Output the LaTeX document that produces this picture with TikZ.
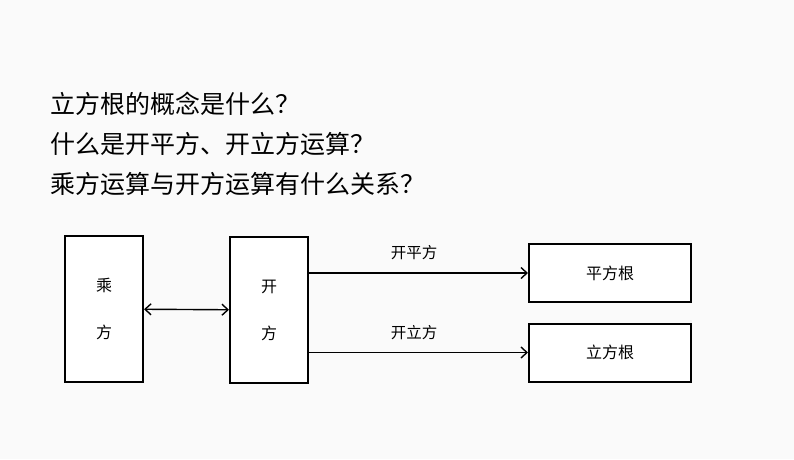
\documentclass[tikz,border=0pt]{standalone}
\usepackage{fontspec}
\usepackage{tikz}
\usetikzlibrary{arrows, arrows.meta}
\newfontfamily\cjk{Noto Sans CJK SC}

\begin{document}
\begin{tikzpicture}[x=1pt, y=-1pt,
  box/.style={draw, line width=2pt, fill=white, inner sep=0pt, font=\cjk\fontsize{16}{19}\selectfont},
  tall/.style={box, minimum width=78pt, minimum height=146pt, align=center},
  wide/.style={box, minimum width=162pt, minimum height=58pt},
  lab/.style={font=\cjk\fontsize{15.5}{18}\selectfont},
  line/.style={font=\cjk\fontsize{25}{30}\selectfont, anchor=west, inner sep=0pt},
  conn/.style={line width=1.4pt, >={Straight Barb[length=6pt, width=11pt, line width=1.4pt]}}]
\fill[black!2] (0,0) rectangle (794,459);
\useasboundingbox (0,0) rectangle (794,459);
% questions
\node[line] (q1) at (50,104) {立方根的概念是什么？};
\node[line] (q2) at (50,144) {什么是开平方、开立方运算？};
\node[line] (q3) at (50,184) {乘方运算与开方运算有什么关系？};
% boxes
\node[tall] (cf) at (104,309) {乘\\[28pt]方};
\node[tall] (kf) at (269,310) {开\\[28pt]方};
\node[wide] (pfg) at (610,273) {平方根};
\node[wide] (lfg) at (610,352.5) {立方根};
% labels
\node[lab] (kpf) at (414,253) {开平方};
\node[lab] (klf) at (414,333) {开立方};
\draw[conn, <->] (cf) -- (kf);
\draw[conn, ->] (kf.east |- pfg) -- (pfg);
\draw[conn, ->] (kf.east |- lfg) -- (lfg);
\end{tikzpicture}
\end{document}
